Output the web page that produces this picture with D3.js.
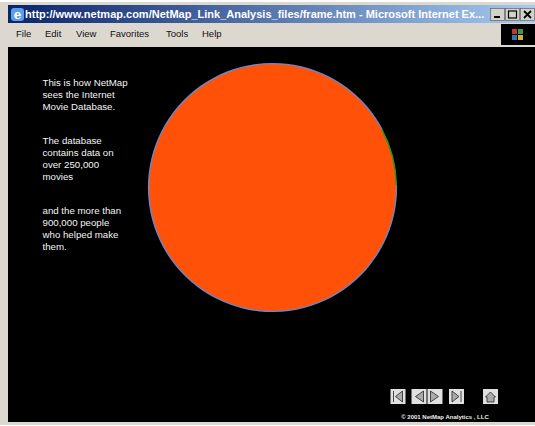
<!DOCTYPE html>
<html>
<head>
<meta charset="utf-8">
<script src="https://d3js.org/d3.v7.min.js"></script>
<style>
  html, body { margin: 0; padding: 0; background: #fff; overflow: hidden; }
  svg { display: block; }
</style>
</head>
<body>
<svg id="chart" width="535" height="426"></svg>
<script>
// values
const sliceNames = ["Movies and people"];
const sliceValues = [100];
const rimNames = ["green", "blue"];
const rimValues = [27, 333];
const rimColors = ["#1c9a1c", "#6f86c8"];
const rimStart = 62; // degrees clockwise from top

const titleText = "http://www.netmap.com/NetMap_Link_Analysis_files/frame.htm - Microsoft Internet Ex...";
const menuItems = ["File", "Edit", "View", "Favorites", "Tools", "Help"];
const menuX = [16, 45, 76, 110, 166, 202];
const paragraphs = [
  ["This is how NetMap", "sees the Internet", "Movie Database."],
  ["The database", "contains data on", "over 250,000", "movies"],
  ["and the more than", "900,000 people", "who helped make", "them."]
];
const paragraphY = [86, 144, 214];
const copyright = "\u00a9 2001 NetMap Analytics , LLC";

const svg = d3.select("#chart");

// window frame
svg.append("rect").attr("width", 535).attr("height", 426).attr("fill", "#fff");
svg.append("rect").attr("x", 0).attr("y", 2).attr("width", 535).attr("height", 423).attr("fill", "#dcd8d0");

// title bar
const grad = svg.append("defs").append("linearGradient").attr("id", "titleGrad");
grad.append("stop").attr("offset", "0%").attr("stop-color", "#0a246a");
grad.append("stop").attr("offset", "100%").attr("stop-color", "#a6caf0");
svg.append("rect").attr("x", 8).attr("y", 5).attr("width", 527).attr("height", 18).attr("fill", "url(#titleGrad)");
svg.append("rect").attr("x", 11).attr("y", 8).attr("width", 13).attr("height", 13).attr("rx", 3).attr("fill", "#5a9ee8");
svg.append("text").attr("x", 17.5).attr("y", 19).attr("text-anchor", "middle")
  .attr("font-family", "'DejaVu Serif'").attr("font-weight", "bold").attr("font-size", 12).attr("fill", "#fff").text("e");
svg.append("text").attr("x", 25).attr("y", 18)
  .attr("font-family", "'Liberation Sans'").attr("font-weight", "bold").attr("font-size", 11)
  .attr("fill", "#fff").text(titleText);

// window buttons
const winButtons = [490.5, 505.5, 520.5];
svg.selectAll(".winbtn").data(winButtons).enter().append("rect")
  .attr("class", "winbtn").attr("x", d => d).attr("y", 8.5).attr("width", 14).attr("height", 12)
  .attr("fill", "#d6d1c7").attr("stroke", "#555").attr("stroke-width", 0.6);
svg.append("rect").attr("x", 494).attr("y", 16).attr("width", 6).attr("height", 2).attr("fill", "#000");
svg.append("rect").attr("x", 508.5).attr("y", 11).attr("width", 8).attr("height", 7).attr("fill", "none").attr("stroke", "#000").attr("stroke-width", 1.2);
svg.append("path").attr("d", "M524 11L531 18M531 11L524 18").attr("stroke", "#000").attr("stroke-width", 1.8);

// menu bar
svg.selectAll(".menu").data(menuItems).enter().append("text")
  .attr("class", "menu").attr("x", (d, i) => menuX[i]).attr("y", 37)
  .attr("font-family", "'Liberation Sans'").attr("font-size", 9.5).attr("fill", "#111").text(d => d);
svg.append("rect").attr("x", 501).attr("y", 24).attr("width", 34).attr("height", 21).attr("fill", "#000");
const flagColors = ["#c0392b", "#3f9a45", "#3a6fc0", "#d8b030"];
svg.selectAll(".flag").data(flagColors).enter().append("rect")
  .attr("class", "flag").attr("x", (d, i) => 512 + (i % 2) * 6).attr("y", (d, i) => 29 + Math.floor(i / 2) * 6)
  .attr("width", 5).attr("height", 5).attr("fill", d => d);

// black page
svg.append("rect").attr("x", 8).attr("y", 47).attr("width", 527).attr("height", 375).attr("fill", "#000");

// the circle
const cx = 272.5, cy = 187.5, r = 124;
const g = svg.append("g").attr("transform", `translate(${cx},${cy})`);
const pie = d3.pie().sort(null);
g.selectAll(".slice").data(pie(sliceValues)).enter().append("path")
  .attr("class", "slice")
  .attr("d", d3.arc().innerRadius(0).outerRadius(r))
  .attr("fill", "#ff5208");
const rimPie = d3.pie().sort(null)
  .startAngle(rimStart * Math.PI / 180)
  .endAngle((rimStart + 360) * Math.PI / 180);
g.selectAll(".rim").data(rimPie(rimValues)).enter().append("path")
  .attr("class", "rim")
  .attr("d", d3.arc().innerRadius(r - 0.8).outerRadius(r + 0.6))
  .attr("fill", (d, i) => rimColors[i]);

// side text
paragraphs.forEach((lines, p) => {
  svg.selectAll(".para" + p).data(lines).enter().append("text")
    .attr("class", "para" + p).attr("x", 42.5).attr("y", (d, i) => paragraphY[p] + i * 12)
    .attr("font-family", "'Liberation Sans'").attr("font-size", 9.7).attr("fill", "#f4f4f4").text(d => d);
});

// navigation buttons
const navX = [390.5, 411.5, 427.5, 449, 483];
const navShapes = [
  "M12 2L5 7.5L12 13Z M3 2V13",
  "M12 2L4 7.5L12 13Z",
  "M3 2L11 7.5L3 13Z",
  "M3 2L10 7.5L3 13Z M12 2V13",
  "M7.5 3L2.5 8H4V13H11V8H12.5Z"
];
const nav = svg.selectAll(".nav").data(navX).enter().append("g")
  .attr("class", "nav").attr("transform", d => `translate(${d},389)`);
nav.append("rect").attr("width", 15).attr("height", 15).attr("fill", "#e0e0e0");
nav.append("path").attr("d", (d, i) => navShapes[i])
  .attr("fill", "#aaa").attr("stroke", "#333").attr("stroke-width", 0.9);

svg.append("text").attr("x", 445).attr("y", 419).attr("text-anchor", "middle")
  .attr("font-family", "'Liberation Sans'").attr("font-weight", "bold").attr("font-size", 6)
  .attr("fill", "#eee").text(copyright);
</script>
</body>
</html>
